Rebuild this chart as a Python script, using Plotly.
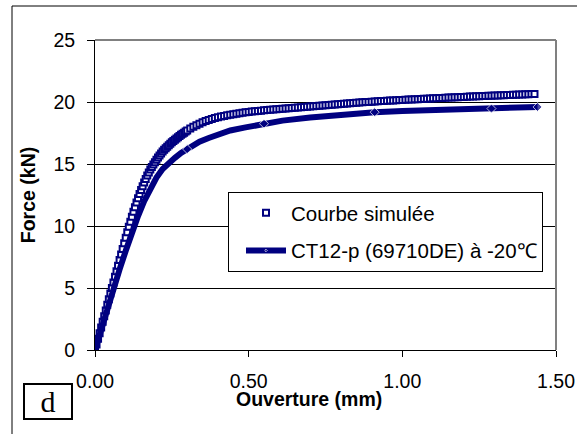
import plotly.graph_objects as go

# ---- data ----
sim_x = [0.000, 0.005, 0.010, 0.015, 0.020, 0.025, 0.030, 0.035, 0.040, 0.045,
         0.050, 0.055, 0.060, 0.065, 0.070, 0.075, 0.080, 0.085, 0.090, 0.095,
         0.100, 0.105, 0.110, 0.115, 0.120, 0.125, 0.130, 0.135, 0.140, 0.145,
         0.150, 0.155, 0.160, 0.165, 0.170, 0.175, 0.180, 0.185, 0.190, 0.195,
         0.200, 0.205, 0.210, 0.215, 0.220, 0.225, 0.230, 0.235, 0.240, 0.245,
         0.250, 0.255, 0.260, 0.265, 0.270, 0.275, 0.280, 0.285, 0.290, 0.295,
         0.300,
         0.31, 0.32, 0.33, 0.34, 0.35, 0.36, 0.37, 0.38, 0.39, 0.40,
         0.41, 0.42, 0.43, 0.44, 0.45, 0.46, 0.47, 0.48, 0.49, 0.50,
         0.51, 0.52, 0.53, 0.54, 0.55, 0.56, 0.57, 0.58, 0.59, 0.60,
         0.61, 0.62, 0.63, 0.64, 0.65, 0.66, 0.67, 0.68, 0.69, 0.70,
         0.71, 0.72, 0.73, 0.74, 0.75, 0.76, 0.77, 0.78, 0.79, 0.80,
         0.81, 0.82, 0.83, 0.84, 0.85, 0.86, 0.87, 0.88, 0.89, 0.90,
         0.91, 0.92, 0.93, 0.94, 0.95, 0.96, 0.97, 0.98, 0.99, 1.00,
         1.01, 1.02, 1.03, 1.04, 1.05, 1.06, 1.07, 1.08, 1.09, 1.10,
         1.11, 1.12, 1.13, 1.14, 1.15, 1.16, 1.17, 1.18, 1.19, 1.20,
         1.21, 1.22, 1.23, 1.24, 1.25, 1.26, 1.27, 1.28, 1.29, 1.30,
         1.31, 1.32, 1.33, 1.34, 1.35, 1.36, 1.37, 1.38, 1.39, 1.40,
         1.41, 1.42, 1.43]
sim_y = [0.00, 0.45, 0.90, 1.36, 1.82, 2.27, 2.73, 3.18, 3.64, 4.09,
         4.55, 5.00, 5.45, 5.90, 6.35, 6.80, 7.25, 7.70, 8.15, 8.60,
         9.05, 9.50, 9.93, 10.35, 10.75, 11.14, 11.52, 11.89, 12.24, 12.58,
         12.90, 13.21, 13.51, 13.80, 14.07, 14.32, 14.55, 14.76, 14.96, 15.15,
         15.34, 15.52, 15.69, 15.85, 16.00, 16.14, 16.27, 16.40, 16.52, 16.64,
         16.75, 16.86, 16.96, 17.06, 17.16, 17.26, 17.35, 17.44, 17.53, 17.62,
         17.70,
         17.86, 18.00, 18.13, 18.25, 18.36, 18.46, 18.55, 18.63, 18.70, 18.77,
         18.83, 18.88, 18.93, 18.97, 19.01, 19.05, 19.09, 19.13, 19.17, 19.20,
         19.23, 19.25, 19.28, 19.30, 19.33, 19.35, 19.37, 19.39, 19.41, 19.43,
         19.45, 19.47, 19.49, 19.51, 19.53, 19.55, 19.57, 19.59, 19.61, 19.63,
         19.65, 19.67, 19.69, 19.71, 19.73, 19.75, 19.77, 19.79, 19.81, 19.83,
         19.85, 19.87, 19.89, 19.91, 19.93, 19.95, 19.97, 19.99, 20.01, 20.03,
         20.05, 20.06, 20.08, 20.09, 20.10, 20.12, 20.13, 20.14, 20.16, 20.17,
         20.18, 20.20, 20.21, 20.22, 20.23, 20.25, 20.26, 20.27, 20.28, 20.30,
         20.31, 20.32, 20.33, 20.34, 20.36, 20.37, 20.38, 20.39, 20.40, 20.41,
         20.42, 20.44, 20.45, 20.46, 20.47, 20.48, 20.49, 20.50, 20.51, 20.52,
         20.53, 20.54, 20.55, 20.56, 20.57, 20.58, 20.59, 20.60, 20.61, 20.62,
         20.63, 20.64, 20.65]

exp_x = [0.00, 0.02, 0.04, 0.06, 0.08, 0.10, 0.12, 0.14, 0.16, 0.18,
         0.20, 0.22, 0.24, 0.26, 0.28, 0.30, 0.32, 0.34, 0.37, 0.40,
         0.44, 0.49, 0.55, 0.61, 0.70, 0.78, 0.86, 0.91, 1.00, 1.10,
         1.20, 1.29, 1.36, 1.44]
exp_y = [0.00, 1.70, 3.30, 4.90, 6.50, 8.00, 9.50, 10.80, 12.00, 13.00,
         13.90, 14.60, 15.10, 15.50, 15.90, 16.20, 16.50, 16.80, 17.10, 17.40,
         17.70, 17.95, 18.25, 18.50, 18.75, 18.95, 19.10, 19.18, 19.27, 19.35,
         19.42, 19.47, 19.53, 19.60]
exp_marked = [0.30, 0.55, 0.91, 1.29, 1.44]

x_ticks = [0.0, 0.5, 1.0, 1.5]
y_ticks = [0, 5, 10, 15, 20, 25]

sim_name = "Courbe simulée"
exp_name = "CT12-p (69710DE) à -20℃"
x_title = "Ouverture (mm)"
y_title = "Force (kN)"
panel_label = "d"

NAVY = "#000080"
FONT = "Liberation Sans, Arial, sans-serif"
FS = 19.5
LEG_FS = 20.5

exp_sizes = [7 if x in exp_marked else 0 for x in exp_x]

fig = go.Figure()
fig.add_trace(go.Scatter(
    x=sim_x, y=sim_y, mode="markers", name=sim_name, legendgroup="a",
    marker=dict(symbol="square", size=6, color="white",
                line=dict(color=NAVY, width=2)),
))
fig.add_trace(go.Scatter(
    x=exp_x, y=exp_y, mode="lines+markers", name=exp_name, legendgroup="b",
    line=dict(color=NAVY, width=6),
    marker=dict(symbol="diamond", size=exp_sizes, color=NAVY),
))

W, H = 577, 434
L, R, T, B = 95, 21, 40, 84
pw, ph = W - L - R, H - T - B

def px(xp):
    return (xp - L) / pw

def py(yp):
    return (H - B - yp) / ph

fig.update_layout(
    width=W, height=H,
    margin=dict(l=L, r=R, t=T, b=B, autoexpand=False),
    paper_bgcolor="white", plot_bgcolor="white",
    font=dict(family=FONT, size=FS, color="black"),
    showlegend=True,
    legend=dict(
        x=px(228), y=py(192), xanchor="left", yanchor="top",
        bgcolor="white", bordercolor="black", borderwidth=1,
        font=dict(family=FONT, size=LEG_FS, color="black"),
        itemwidth=40, indentation=12,
        traceorder="grouped", tracegroupgap=8,
    ),
    xaxis=dict(
        range=[0, 1.5], tickvals=x_ticks, tickformat=".2f",
        showgrid=False, zeroline=False, automargin=False,
        showline=True, linecolor="black", linewidth=1,
        ticks="outside", ticklen=6, tickcolor="black", tickwidth=1,
        ticklabelstandoff=8,
        tickfont=dict(family=FONT, size=FS, color="black"),
    ),
    yaxis=dict(
        range=[0, 25], tickvals=y_ticks, automargin=False,
        showgrid=True, gridcolor="black", gridwidth=1, zeroline=False,
        showline=True, linecolor="black", linewidth=1,
        ticks="outside", ticklen=7, tickcolor="black", tickwidth=1,
        ticklabelstandoff=8,
        tickfont=dict(family=FONT, size=FS, color="black"),
        title=dict(text=f"<b>{y_title}</b>", standoff=12,
                   font=dict(family=FONT, size=FS, color="black")),
    ),
    shapes=[
        dict(type="line", xref="paper", yref="paper", x0=0, x1=1, y0=1, y1=1,
             line=dict(color="#808080", width=2)),
        dict(type="line", xref="paper", yref="paper", x0=1, x1=1, y0=0, y1=1,
             line=dict(color="#808080", width=2)),
        dict(type="line", xref="paper", yref="paper", x0=px(12), x1=px(W + 5),
             y0=py(6), y1=py(6), line=dict(color="black", width=1)),
        dict(type="line", xref="paper", yref="paper", x0=px(12), x1=px(12),
             y0=py(6), y1=py(H + 5), line=dict(color="black", width=1)),
    ],
    annotations=[
        dict(text=f"<b>{x_title}</b>", xref="paper", yref="paper",
             x=px(309), y=py(399), xanchor="center", yanchor="middle",
             showarrow=False, font=dict(family=FONT, size=FS, color="black")),
        dict(text=panel_label, xref="paper", yref="paper",
             x=px(48), y=py(401.5), xanchor="center", yanchor="middle",
             showarrow=False, width=46, height=33,
             bordercolor="black", borderwidth=2, borderpad=0, bgcolor="white",
             font=dict(family="Liberation Serif, Times New Roman, serif",
                       size=30, color="black")),
    ],
)

fig.write_html("out.html",
               config={"displayModeBar": False},
               post_script="document.body.style.margin='0';")
